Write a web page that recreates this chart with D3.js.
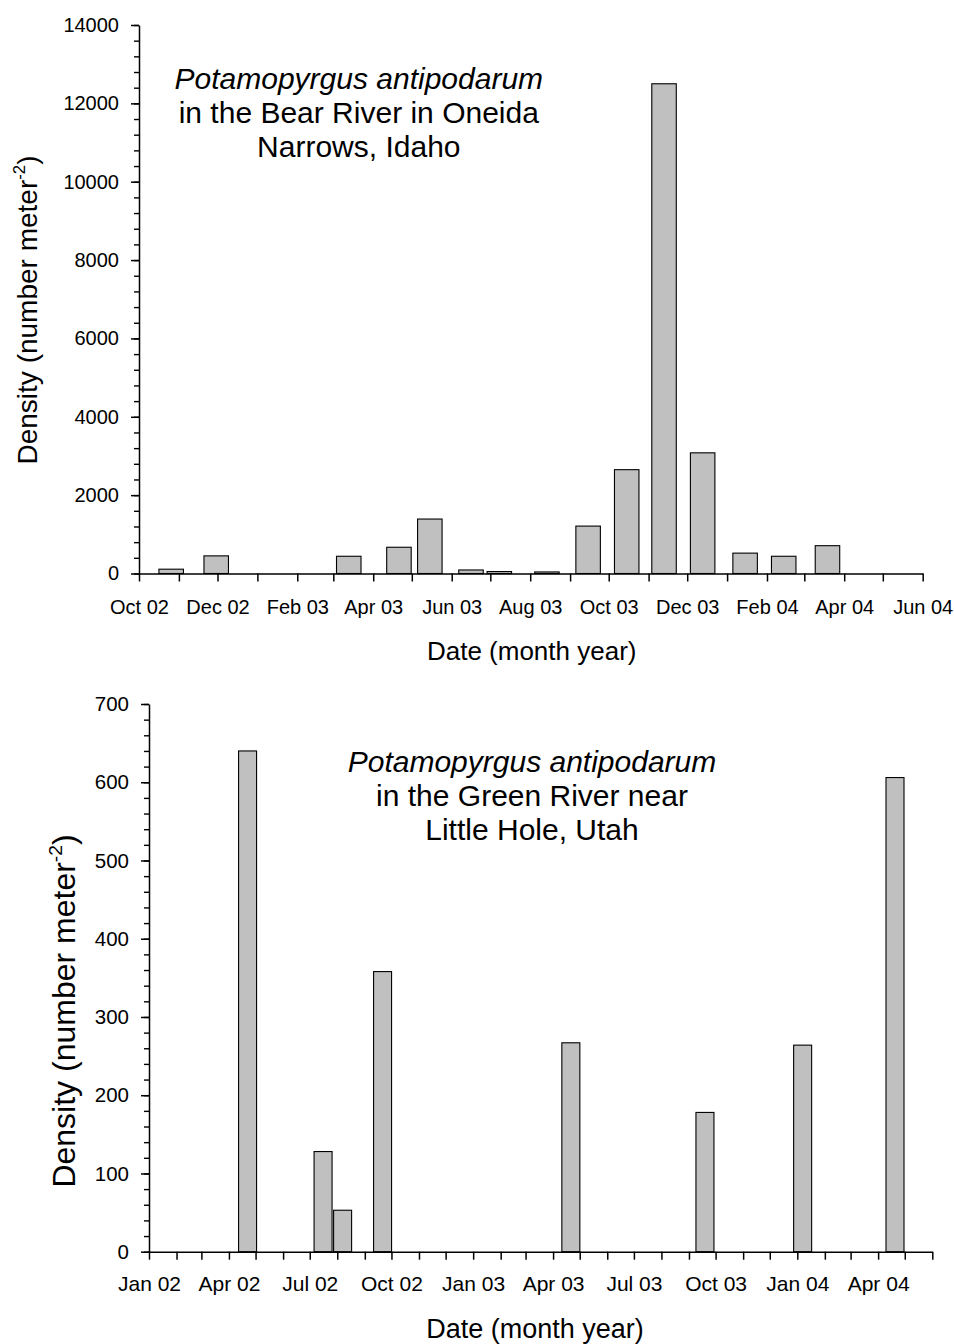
<!DOCTYPE html>
<html>
<head>
<meta charset="utf-8">
<script src="https://cdn.jsdelivr.net/npm/d3@7"></script>
<style>
  html, body { margin: 0; padding: 0; background: #fff; }
  svg { display: block; }
  text { font-family: "Liberation Sans", Arial, Helvetica, sans-serif; fill: #000; }
</style>
</head>
<body>
<svg id="chart" width="954" height="1344"></svg>
<script>
// ---------- Data ----------
// Panel 1: Bear River, Oneida Narrows, Idaho
const bearDates  = ["2002-10-26","2002-11-30","2003-03-13","2003-04-21","2003-05-15","2003-06-16","2003-07-08","2003-08-14","2003-09-15","2003-10-15","2003-11-13","2003-12-13","2004-01-15","2004-02-14","2004-03-19"];
const bearValues = [110, 450, 440, 670, 1390, 90, 50, 40, 1210, 2650, 12500, 3080, 520, 440, 710];
const bearYTicks = [0, 2000, 4000, 6000, 8000, 10000, 12000, 14000];
const bearTitle  = ["Potamopyrgus antipodarum", "in the Bear River in Oneida", "Narrows, Idaho"];

// Panel 2: Green River near Little Hole, Utah
const greenDates  = ["2002-04-22","2002-07-16","2002-08-07","2002-09-21","2003-04-21","2003-09-19","2004-01-07","2004-04-20"];
const greenValues = [640, 128, 53, 358, 267, 178, 264, 606];
const greenYTicks = [0, 100, 200, 300, 400, 500, 600, 700];
const greenTitle  = ["Potamopyrgus antipodarum", "in the Green River near", "Little Hole, Utah"];

const xLabel = "Date (month year)";
const yLabelMain = "Density (number meter";
const yLabelSup = "-2";

// ---------- Drawing ----------
const svg = d3.select("#chart");
const parse = d3.utcParse("%Y-%m-%d");
const fmt = d3.utcFormat("%b %y");

function panel(cfg) {
  const g = svg.append("g");
  const x = d3.scaleUtc().domain([parse(cfg.xStart), parse(cfg.xEnd)]).range([cfg.x0, cfg.x1]);
  const y = d3.scaleLinear().domain([0, cfg.yMax]).range([cfg.y0, cfg.y1]);

  // bars
  const data = cfg.dates.map((d, i) => ({ date: parse(d), value: cfg.values[i] }));
  g.selectAll("rect.bar").data(data).join("rect")
    .attr("class", "bar")
    .attr("x", d => x(d.date) - cfg.barW / 2)
    .attr("width", cfg.barW)
    .attr("y", d => y(d.value))
    .attr("height", d => y(0) - y(d.value))
    .attr("fill", "#c0c0c0")
    .attr("stroke", "#000")
    .attr("stroke-width", 1.1);

  // y minor ticks
  const minorY = d3.range(0, cfg.yMax + 1e-9, cfg.yMinor);
  g.append("g").attr("transform", `translate(${cfg.x0},0)`)
    .call(d3.axisLeft(y).tickValues(minorY).tickSize(5).tickFormat(""))
    .call(a => a.select(".domain").remove())
    .call(a => a.selectAll("line").attr("stroke-width", 1.4));
  // y major
  g.append("g").attr("transform", `translate(${cfg.x0},0)`)
    .call(d3.axisLeft(y).tickValues(cfg.yTicks).tickSize(8).tickSizeOuter(0).tickPadding(12).tickFormat(d3.format("d")))
    .call(a => a.select(".domain").attr("stroke-width", 1.5))
    .call(a => a.selectAll("line").attr("stroke-width", 1.5))
    .call(a => a.selectAll("text").attr("font-size", cfg.tickFont).attr("font-family", "Liberation Sans, Arial, sans-serif"));

  // x axis
  const months = d3.utcMonth.range(parse(cfg.xStart), d3.utcMonth.offset(parse(cfg.xEnd), 1));
  g.append("g").attr("transform", `translate(0,${cfg.y0})`)
    .call(d3.axisBottom(x).tickValues(months).tickSize(8).tickSizeOuter(0).tickPadding(cfg.xPad)
      .tickFormat(d => cfg.labelMonth(d) ? fmt(d) : ""))
    .call(a => a.select(".domain").attr("stroke-width", 1.5))
    .call(a => a.selectAll("line").attr("stroke-width", 1.5))
    .call(a => a.selectAll("text").attr("font-size", cfg.xTickFont).attr("font-family", "Liberation Sans, Arial, sans-serif"));

  // title
  const t = g.append("text").attr("text-anchor", "middle").attr("font-size", cfg.titleFont);
  cfg.title.forEach((line, i) => {
    t.append("tspan").attr("x", cfg.titleX).attr("y", cfg.titleY + i * cfg.titleGap)
      .attr("font-style", i === 0 ? "italic" : "normal").text(line);
  });

  // x label
  g.append("text").attr("x", cfg.xLabX).attr("y", cfg.xLabY).attr("text-anchor", "middle")
    .attr("font-size", cfg.xLabFont).text(xLabel);

  // y label
  const yl = g.append("text")
    .attr("transform", `translate(${cfg.yLabX},${cfg.yLabY}) rotate(-90)`)
    .attr("text-anchor", "middle").attr("font-size", cfg.yLabFont);
  yl.append("tspan").text(yLabelMain);
  yl.append("tspan").attr("font-size", cfg.yLabFont * 0.6).attr("dy", -cfg.yLabFont * 0.42).text(yLabelSup);
  yl.append("tspan").attr("dy", cfg.yLabFont * 0.42).text(")");
}

panel({
  dates: bearDates, values: bearValues, yTicks: bearYTicks, yMax: 14000, yMinor: 400,
  xStart: "2002-10-01", xEnd: "2004-06-01",
  x0: 139, x1: 922.7, y0: 573.5, y1: 25, barW: 24.5,
  labelMonth: d => d.getUTCMonth() % 2 === 1, xPad: 18,
  tickFont: 20, xTickFont: 20,
  title: bearTitle, titleX: 358.8, titleY: 89, titleGap: 34, titleFont: 30,
  xLabX: 531.7, xLabY: 660, xLabFont: 26,
  yLabX: 36.5, yLabY: 310, yLabFont: 28
});

panel({
  dates: greenDates, values: greenValues, yTicks: greenYTicks, yMax: 700, yMinor: 20,
  xStart: "2002-01-01", xEnd: "2004-06-01",
  x0: 149, x1: 932.3, y0: 1251.7, y1: 704, barW: 18,
  labelMonth: d => d.getUTCMonth() % 3 === 0, xPad: 16,
  tickFont: 20.5, xTickFont: 21,
  title: greenTitle, titleX: 532, titleY: 771.7, titleGap: 34, titleFont: 30,
  xLabX: 535, xLabY: 1338, xLabFont: 27,
  yLabX: 75, yLabY: 1011, yLabFont: 32
});
</script>
</body>
</html>
